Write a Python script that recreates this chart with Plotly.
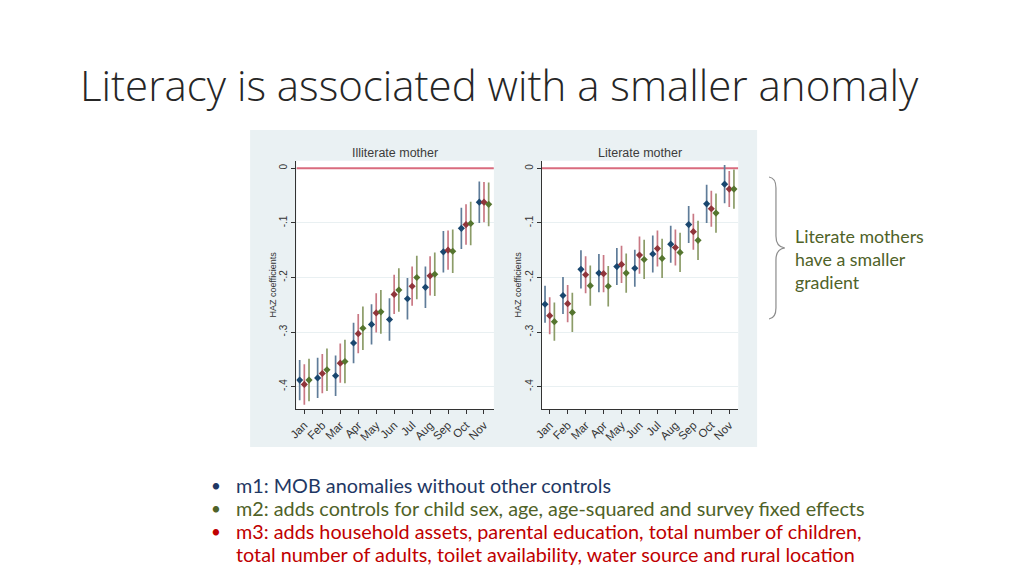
import plotly.graph_objects as go
from plotly.subplots import make_subplots

# ---------------- data ----------------
months = ["Jan", "Feb", "Mar", "Apr", "May", "Jun", "Jul", "Aug", "Sep", "Oct", "Nov"]
series_names = ["m1", "m2", "m3"]

ill_m1 = [-0.388, -0.384, -0.380, -0.320, -0.286, -0.277, -0.239, -0.218, -0.153, -0.110, -0.062]
ill_m2 = [-0.396, -0.376, -0.357, -0.303, -0.265, -0.231, -0.216, -0.197, -0.150, -0.103, -0.062]
ill_m3 = [-0.388, -0.369, -0.354, -0.293, -0.263, -0.223, -0.200, -0.194, -0.152, -0.101, -0.066]
ill_ci_m1 = [0.037, 0.037, 0.037, 0.037, 0.037, 0.039, 0.038, 0.038, 0.038, 0.038, 0.038]
ill_ci_m2 = [0.037, 0.036, 0.036, 0.036, 0.036, 0.036, 0.036, 0.036, 0.036, 0.037, 0.037]
ill_ci_m3 = [0.039, 0.039, 0.040, 0.040, 0.040, 0.040, 0.040, 0.040, 0.040, 0.040, 0.040]

lit_m1 = [-0.249, -0.233, -0.185, -0.192, -0.180, -0.183, -0.157, -0.139, -0.103, -0.065, -0.029]
lit_m2 = [-0.270, -0.248, -0.195, -0.193, -0.176, -0.159, -0.147, -0.145, -0.116, -0.074, -0.038]
lit_m3 = [-0.281, -0.264, -0.215, -0.216, -0.192, -0.167, -0.165, -0.154, -0.132, -0.082, -0.038]
lit_ci_m1 = [0.034, 0.034, 0.035, 0.035, 0.034, 0.034, 0.034, 0.034, 0.034, 0.035, 0.035]
lit_ci_m2 = [0.034, 0.034, 0.034, 0.034, 0.034, 0.034, 0.033, 0.033, 0.033, 0.033, 0.033]
lit_ci_m3 = [0.035, 0.036, 0.037, 0.037, 0.036, 0.036, 0.036, 0.036, 0.036, 0.036, 0.036]

reference_value = 0.0
ytick_vals = [0, -0.1, -0.2, -0.3, -0.4]
ytick_text = ["0", "-.1", "-.2", "-.3", "-.4"]

panel_titles = ["Illiterate mother", "Literate mother"]
y_title = "HAZ coefficients"
slide_title = "Literacy is associated with a smaller anomaly"
brace_text = "Literate mothers<br>have a smaller<br>gradient"
bullets = [
    ("m1: MOB anomalies without other controls", "#1F3864"),
    ("m2: adds controls for child sex, age, age-squared and survey fixed effects", "#4F6228"),
    ("m3: adds household assets, parental education, total number of children,", "#C00000"),
]
bullet_cont = "total number of adults, toilet availability, water source and rural location"

# ---------------- style ----------------
W, H = 1024, 576
X_SHIFT = -6  # compensates a horizontal page offset seen in the renderer
def px(x):
    return (x + X_SHIFT) / W
def py(y):
    return 1 - y / H

marker_colors = ["#1A476F", "#90353B", "#55752F"]
ci_colors = ["#5F7C99", "#C97884", "#8C9C68"]
offsets = [0.0, 0.26, 0.52]
x_ranges = [[0.82, 11.81], [0.82, 11.76]]

fig = make_subplots(rows=1, cols=2)

panels = [
    ([ill_m1, ill_m2, ill_m3], [ill_ci_m1, ill_ci_m2, ill_ci_m3]),
    ([lit_m1, lit_m2, lit_m3], [lit_ci_m1, lit_ci_m2, lit_ci_m3]),
]
idx = list(range(1, len(months) + 1))
for p, (vals, cis) in enumerate(panels):
    fig.add_trace(
        go.Scatter(x=x_ranges[p], y=[reference_value, reference_value], mode="lines",
                   line=dict(color="#D96B7E", width=2), showlegend=False,
                   hoverinfo="skip"),
        row=1, col=p + 1,
    )
    for s in range(3):
        fig.add_trace(
            go.Scatter(
                x=[i + offsets[s] for i in idx],
                y=vals[s],
                mode="markers",
                name=series_names[s],
                showlegend=False,
                marker=dict(symbol="diamond", size=5.5, color=marker_colors[s]),
                error_y=dict(type="data", array=cis[s], visible=True,
                             color=ci_colors[s], thickness=1.7, width=0),
            ),
            row=1, col=p + 1,
        )

dom_x = [[px(296.7), px(495.7)], [px(544), px(742)]]
dom_y = [py(409), py(160.7)]

axis_font = dict(family="Liberation Sans, Arial, sans-serif", size=11.5, color="#333333")
for p in range(2):
    sfx = "" if p == 0 else "2"
    fig.layout["xaxis" + sfx].update(
        domain=dom_x[p], range=x_ranges[p],
        tickvals=[i + offsets[1] for i in idx], ticktext=months,
        tickangle=-45, tickfont=axis_font, ticks="outside", ticklen=4,
        tickcolor="#333333", showline=True, linecolor="#333333", linewidth=1.2,
        showgrid=False, zeroline=False,
    )
    fig.layout["yaxis" + sfx].update(
        domain=dom_y, range=[-0.441, 0.014],
        tickvals=ytick_vals, ticktext=ytick_text, tickangle=-90,
        tickfont=dict(family="Liberation Sans, Arial, sans-serif", size=10, color="#333333"),
        ticks="outside", ticklen=4, tickcolor="#333333",
        showline=True, linecolor="#333333", linewidth=1.2,
        showgrid=True, gridcolor="#E9F0F2", gridwidth=1, zeroline=False,
        title=dict(text=y_title, font=dict(family="Liberation Sans, Arial, sans-serif",
                                           size=9, color="#333333"), standoff=0),
    )

shapes = []
shapes.append(dict(type="rect", xref="paper", yref="paper",
                   x0=px(250), x1=px(761), y0=py(447), y1=py(130),
                   fillcolor="#EAF1F3", line=dict(width=0), layer="below"))
for p in range(2):
    xr = "x" if p == 0 else "x2"
    yr = "y" if p == 0 else "y2"
    shapes.append(dict(type="rect", xref=xr + " domain", yref=yr + " domain",
                       x0=0, x1=1, y0=0, y1=1, fillcolor="white",
                       line=dict(width=0), layer="below"))

def P(x, y):
    return f"{px(x):.5f},{py(y):.5f}"
brace = (
    "M " + P(773, 177) +
    " Q " + P(780, 178) + " " + P(780, 188) +
    " L " + P(780, 236) +
    " Q " + P(780, 247) + " " + P(789, 248) +
    " Q " + P(780, 249) + " " + P(780, 260) +
    " L " + P(780, 308) +
    " Q " + P(780, 318) + " " + P(773, 319)
)
shapes.append(dict(type="path", xref="paper", yref="paper", path=brace,
                   line=dict(color="#8C8C8C", width=1.2)))

annotations = []
annotations.append(dict(text=slide_title, xref="paper", yref="paper",
                        x=px(77), y=py(85), xanchor="left", yanchor="middle",
                        showarrow=False,
                        font=dict(family="Open Sans, sans-serif", size=42, color="#262626",
                                  weight=300)))
for p, cx in enumerate([396, 643]):
    annotations.append(dict(text=panel_titles[p], xref="paper", yref="paper",
                            x=px(cx), y=py(153), xanchor="center", yanchor="middle",
                            showarrow=False,
                            font=dict(family="Liberation Sans, Arial, sans-serif",
                                      size=12.5, color="#3C3C3C")))
annotations.append(dict(text=brace_text, xref="paper", yref="paper",
                        x=px(797), y=py(259), xanchor="left", yanchor="middle",
                        align="left", showarrow=False,
                        font=dict(family="Lato, sans-serif", size=17.8, color="#4F6228")))
line_y = [485, 508, 531]
for (txt, col), yy in zip(bullets, line_y):
    annotations.append(dict(text="•", xref="paper", yref="paper", x=px(216), y=py(yy),
                            xanchor="center", yanchor="middle", showarrow=False,
                            font=dict(family="Lato, sans-serif", size=17, color=col)))
    annotations.append(dict(text=txt, xref="paper", yref="paper", x=px(234), y=py(yy),
                            xanchor="left", yanchor="middle", showarrow=False,
                            font=dict(family="Lato, sans-serif", size=19.8, color=col)))
annotations.append(dict(text=bullet_cont, xref="paper", yref="paper", x=px(234), y=py(554),
                        xanchor="left", yanchor="middle", showarrow=False,
                        font=dict(family="Lato, sans-serif", size=19.8, color="#C00000")))

fig.update_layout(
    width=W, height=H, margin=dict(l=0, r=0, t=0, b=0),
    paper_bgcolor="white", plot_bgcolor="rgba(0,0,0,0)",
    showlegend=False, shapes=shapes, annotations=annotations,
)

post = (
    "document.documentElement.style.margin='0px';"
    "document.body.style.margin='0px';document.body.style.padding='0px';"
    "document.body.style.overflow='hidden';"
    "var gd=document.getElementsByClassName('plotly-graph-div')[0];"
    "gd.style.position='absolute';gd.style.left='0px';gd.style.top='0px';"
)
fig.write_html("out.html", config={"displayModeBar": False}, post_script=post)
